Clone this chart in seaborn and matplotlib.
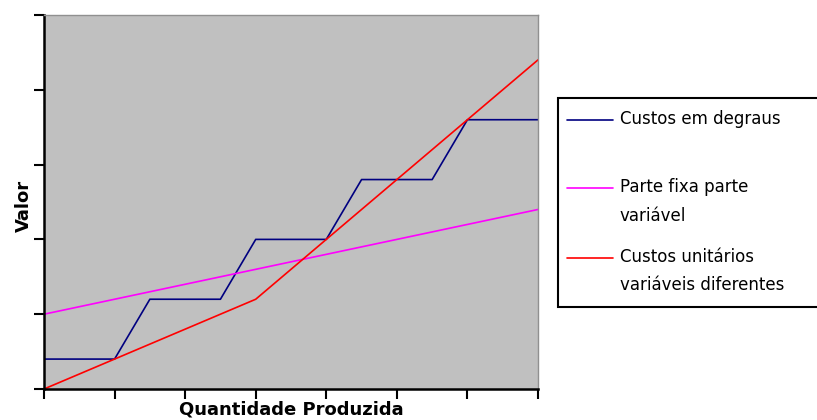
import matplotlib
matplotlib.use("Agg")
import matplotlib.pyplot as plt
from matplotlib.lines import Line2D
from matplotlib.patches import Rectangle
import seaborn as sns
import pandas as pd

# Quantity produced (in tick units) and cost values
qty_steps = [0, 1, 1.5, 2.5, 3, 4, 4.5, 5.5, 6, 7]
custos_degraus = [0.4, 0.4, 1.2, 1.2, 2.0, 2.0, 2.8, 2.8, 3.6, 3.6]

qty = [0, 1, 2, 3, 4, 5, 6, 7]
parte_fixa_variavel = [1.0, 1.2, 1.4, 1.6, 1.8, 2.0, 2.2, 2.4]
custos_unitarios = [0.0, 0.4, 0.8, 1.2, 2.0, 2.8, 3.6, 4.4]

labels = ["Custos em degraus", "Parte fixa parte\nvariável",
          "Custos unitários\nvariáveis diferentes"]
colors = ["#000080", "#FF00FF", "#FF0000"]

sns.set_style("white")
plt.rcParams["font.family"] = ["DejaVu Sans"]
plt.rcParams["text.color"] = "black"
plt.rcParams["axes.labelcolor"] = "black"

W, H = 817, 420
fig = plt.figure(figsize=(W / 100, H / 100), dpi=100)
ax = fig.add_axes([44 / W, (H - 389) / H, (538 - 44) / W, (389 - 15) / H])
ax.set_facecolor("#C0C0C0")

df_steps = pd.DataFrame({"q": qty_steps, "v": custos_degraus})
df_lin = pd.DataFrame({"q": qty, "fixa": parte_fixa_variavel, "unit": custos_unitarios})

sns.lineplot(data=df_steps, x="q", y="v", ax=ax, color=colors[0], lw=1.2,
             sort=False, legend=False)
sns.lineplot(data=df_lin, x="q", y="fixa", ax=ax, color=colors[1], lw=1.2,
             legend=False)
sns.lineplot(data=df_lin, x="q", y="unit", ax=ax, color=colors[2], lw=1.2,
             legend=False)

ax.set_xlim(0, 7)
ax.set_ylim(0, 5)
ax.set_xticks(range(8))
ax.set_yticks(range(6))
ax.set_xticklabels([])
ax.set_yticklabels([])
ax.tick_params(axis="both", direction="out", length=7, width=1.5, color="black",
               bottom=True, left=True)

for side in ["left", "bottom"]:
    ax.spines[side].set_color("black")
    ax.spines[side].set_linewidth(1.8)
for side in ["top", "right"]:
    ax.spines[side].set_color("#909090")
    ax.spines[side].set_linewidth(1.0)

ax.set_xlabel("Quantidade Produzida", fontsize=13, fontweight="bold")
ax.xaxis.set_label_coords(0.5, -0.03)
ax.set_ylabel("Valor", fontsize=13, fontweight="bold")
ax.yaxis.set_label_coords(-0.022, 0.49)

# Legend box: handles aligned with the first line of each label
def fy(py):
    return 1 - py / H

def fx(px):
    return px / W

box = Rectangle((fx(558), fy(307)), fx(300), (307 - 98) / H,
                transform=fig.transFigure, facecolor="white",
                edgecolor="black", linewidth=1.5)
fig.add_artist(box)
entry_y = [120, 188, 258]
for lbl, col, py in zip(labels, colors, entry_y):
    fig.add_artist(Line2D([fx(567), fx(613)], [fy(py), fy(py)],
                          transform=fig.transFigure, color=col, lw=1.2))
    fig.text(fx(620), fy(py - 10), lbl, fontsize=12, va="top", ha="left",
             linespacing=1.75)

fig.savefig("out.png", dpi=100)
